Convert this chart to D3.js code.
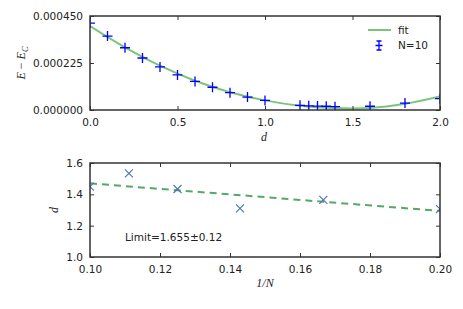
<!DOCTYPE html>
<html>
<head>
<meta charset="utf-8">
<script src="https://cdn.jsdelivr.net/npm/d3@7"></script>
<style>
  body { margin: 0; background: #fff; }
  text { font-family: "DejaVu Sans", sans-serif; fill: #222; }
</style>
</head>
<body>
<div id="chart"></div>
<script>
// top panel: energy difference vs d
const dVals = [0, 0.1, 0.2, 0.3, 0.4, 0.5, 0.6, 0.7, 0.8, 0.9, 1.0, 1.2, 1.25, 1.3, 1.35, 1.4, 1.6, 1.8, 2.0];
const eVals = [0.000416, 0.000354, 0.000298, 0.000249, 0.000206, 0.000168, 0.000137, 0.000109, 0.000083,
               0.000062, 0.000046, 0.0000225, 0.000020, 0.000019, 0.000018, 0.000016, 0.000018, 0.000033, 0.000054];
const fitD = [0, 0.2, 0.4, 0.6, 0.8, 1.0, 1.2, 1.4, 1.6, 1.8, 2.0];
const fitE = [0.000402, 0.000300, 0.000212, 0.000140, 0.000085, 0.000046, 0.000020, 0.000009, 0.000010, 0.000030, 0.000065];
const topXTicks = [0, 0.5, 1.0, 1.5, 2.0];
const topYTicks = [0, 0.000225, 0.00045];

// bottom panel: d vs 1/N
const invN = [1/10, 1/9, 1/8, 1/7, 1/6, 1/5];
const dEst = [1.449, 1.534, 1.434, 1.311, 1.364, 1.306];
const limFitX = [0.1, 0.2];
const limFitY = [1.470, 1.294];
const botXTicks = [0.10, 0.12, 0.14, 0.16, 0.18, 0.20];
const botYTicks = [1.0, 1.2, 1.4, 1.6];

const width = 463, height = 309;
const svg = d3.select("#chart").append("svg")
  .attr("width", width).attr("height", height);

const left = 90, right = 440;

function frame(g, x, y, xt, yt, xfmt, yfmt) {
  const [x0, x1] = x.range();
  const [y0, y1] = y.range();
  // inward ticks on all four sides
  g.append("g").attr("transform", `translate(0,${y0})`)
    .call(d3.axisBottom(x).tickValues(xt).tickSize(-4).tickPadding(9).tickFormat(xfmt));
  g.append("g").attr("transform", `translate(0,${y1})`)
    .call(d3.axisTop(x).tickValues(xt).tickSize(-4).tickFormat(""));
  g.append("g").attr("transform", `translate(${x0},0)`)
    .call(d3.axisLeft(y).tickValues(yt).tickSize(-4).tickPadding(7).tickFormat(yfmt));
  g.append("g").attr("transform", `translate(${x1},0)`)
    .call(d3.axisRight(y).tickValues(yt).tickSize(-4).tickFormat(""));
  g.selectAll(".domain").remove();
  g.selectAll(".tick line").attr("stroke", "#333").attr("stroke-width", 1);
  g.selectAll(".tick text").style("font-size", "10.5px").attr("fill", "#222");
  g.append("rect").attr("x", x0).attr("y", y1)
    .attr("width", x1 - x0).attr("height", y0 - y1)
    .attr("fill", "none").attr("stroke", "#333").attr("stroke-width", 1.5);
}

// ---- top panel ----
const x1s = d3.scaleLinear().domain([0, 2]).range([left, right]);
const y1s = d3.scaleLinear().domain([0, 0.00045]).range([110, 16]);
const topG = svg.append("g");

topG.append("defs").append("clipPath").attr("id", "clipTop")
  .append("rect").attr("x", left).attr("y", 16).attr("width", right - left).attr("height", 94);

topG.append("path")
  .datum(fitD.map((d, i) => [d, fitE[i]]))
  .attr("clip-path", "url(#clipTop)")
  .attr("fill", "none").attr("stroke", "#7cc47c").attr("stroke-width", 2)
  .attr("d", d3.line().x(d => x1s(d[0])).y(d => y1s(d[1])).curve(d3.curveCatmullRom));

topG.append("g").attr("clip-path", "url(#clipTop)")
  .selectAll("path.plus")
  .data(dVals.map((d, i) => [d, eVals[i]]))
  .join("path")
  .attr("class", "plus")
  .attr("d", d => {
    const cx = x1s(d[0]), cy = y1s(d[1]);
    return `M${cx - 5},${cy}H${cx + 5}M${cx},${cy - 5}V${cy + 5}`;
  })
  .attr("stroke", "#0000ff").attr("stroke-width", 1.3);

frame(topG, x1s, y1s, topXTicks, topYTicks, d3.format(".1f"), d3.format(".6f"));

// legend
topG.append("line").attr("x1", 368).attr("x2", 391).attr("y1", 30).attr("y2", 30)
  .attr("stroke", "#7cc47c").attr("stroke-width", 2);
topG.append("text").attr("x", 398).attr("y", 34).style("font-size", "10.5px").text("fit");
topG.append("path")
  .attr("d", "M379,41V50M376.5,41H381.5M376.5,50H381.5M375.5,45.5H382.5")
  .attr("stroke", "#0000ff").attr("stroke-width", 1.3).attr("fill", "none");
topG.append("text").attr("x", 398).attr("y", 49).style("font-size", "10.5px").text("N=10");

// axis labels
topG.append("text").attr("x", 264).attr("y", 141)
  .attr("text-anchor", "middle")
  .style("font-family", "'Liberation Serif', serif").style("font-style", "italic").style("font-size", "12px")
  .text("d");
const yl = topG.append("text")
  .attr("transform", `translate(25,63) rotate(-90)`)
  .attr("text-anchor", "middle")
  .style("font-family", "'Liberation Serif', serif").style("font-style", "italic").style("font-size", "12px");
yl.append("tspan").text("E");
yl.append("tspan").style("font-style", "normal").text(" \u2212 ");
yl.append("tspan").text("E");
yl.append("tspan").attr("dy", 3).style("font-size", "8.5px").text("C");

// ---- bottom panel ----
const x2s = d3.scaleLinear().domain([0.1, 0.2]).range([left, right]);
const y2s = d3.scaleLinear().domain([1.0, 1.6]).range([257, 163]);
const botG = svg.append("g");

botG.append("defs").append("clipPath").attr("id", "clipBot")
  .append("rect").attr("x", left).attr("y", 163).attr("width", right - left).attr("height", 94);

botG.append("path")
  .datum(limFitX.map((d, i) => [d, limFitY[i]]))
  .attr("fill", "none").attr("stroke", "#55a868").attr("stroke-width", 2)
  .attr("stroke-dasharray", "7,5")
  .attr("d", d3.line().x(d => x2s(d[0])).y(d => y2s(d[1])));

botG.append("g").attr("clip-path", "url(#clipBot)")
  .selectAll("path.cross")
  .data(invN.map((d, i) => [d, dEst[i]]))
  .join("path")
  .attr("class", "cross")
  .attr("d", d => {
    const cx = x2s(d[0]), cy = y2s(d[1]), r = 4;
    return `M${cx - r},${cy - r}L${cx + r},${cy + r}M${cx - r},${cy + r}L${cx + r},${cy - r}`;
  })
  .attr("stroke", "#4c72b0").attr("stroke-width", 1.1);

frame(botG, x2s, y2s, botXTicks, botYTicks, d3.format(".2f"), d3.format(".1f"));

botG.append("text").attr("x", 125).attr("y", 241).style("font-size", "10.5px")
  .text("Limit=1.655\u00b10.12");

botG.append("text").attr("x", 265).attr("y", 287)
  .attr("text-anchor", "middle")
  .style("font-family", "'Liberation Serif', serif").style("font-style", "italic").style("font-size", "12px")
  .text("1/N");
botG.append("text")
  .attr("transform", `translate(58,210) rotate(-90)`)
  .attr("text-anchor", "middle")
  .style("font-family", "'Liberation Serif', serif").style("font-style", "italic").style("font-size", "12px")
  .text("d");
</script>
</body>
</html>
